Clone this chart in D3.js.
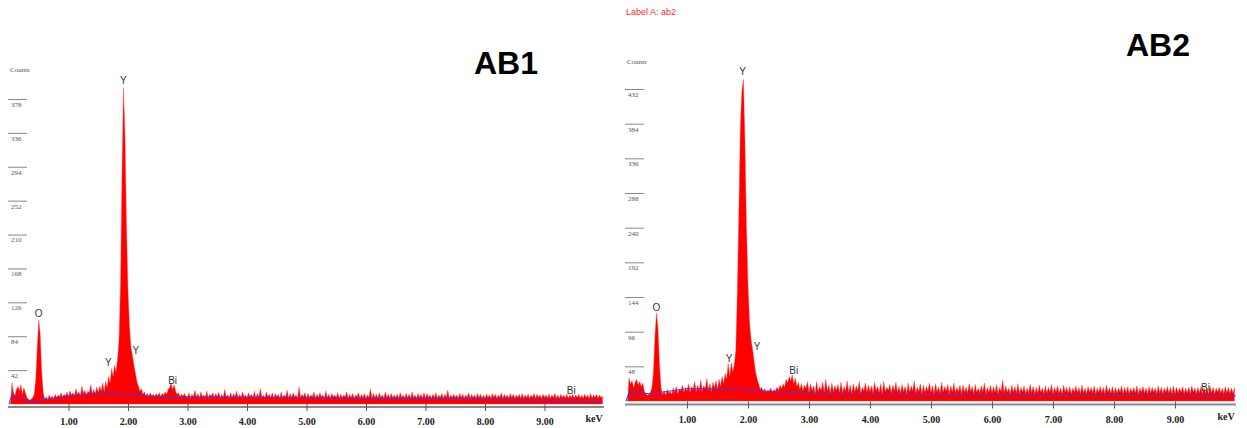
<!DOCTYPE html>
<html>
<head>
<meta charset="utf-8">
<script src="https://cdn.jsdelivr.net/npm/d3@7"></script>
<style>
  body { margin: 0; background: #fff; }
  svg { display: block; }
</style>
</head>
<body>
<svg id="chart" width="1247" height="428"></svg>
<script>
// channel width of the spectra (keV), 400 channels from 0 to 9.975 keV
const channelStep = 0.025;

// AB1 counts per channel, rows of 20 channels = 0.5 keV
const ab1Counts = [
  0,0,26,14,10,18,22,16,24,12,20,14,8,6,5,6,8,12,30,70,
  104,86,40,14,6,9,5,11,7,10,6,12,8,11,9,14,8,12,10,15,
  9,16,11,14,10,19,12,15,10,22,13,17,11,16,14,24,12,18,13,21,
  14,22,16,26,15,28,20,34,26,44,34,48,40,56,80,150,290,392,330,220,
  140,96,70,60,48,38,28,22,16,19,12,15,10,13,9,14,10,12,9,13,
  10,14,9,13,11,15,12,18,20,26,18,24,16,12,14,9,12,10,13,9,
  8,14,7,12,9,17,8,13,7,15,9,11,8,16,7,12,10,14,8,13,
  9,15,7,12,8,18,9,11,7,14,8,13,9,16,7,12,8,15,9,11,
  7,14,9,12,8,16,7,13,9,19,8,11,7,15,9,12,8,14,7,13,
  9,12,7,15,8,11,9,17,7,13,8,14,9,11,7,21,8,12,9,14,
  7,13,8,11,9,15,7,12,8,14,9,11,7,16,8,12,7,13,9,11,
  8,14,7,12,8,11,9,15,7,12,8,13,7,11,9,14,7,12,8,13,
  7,11,8,19,7,13,8,12,7,14,8,11,7,15,8,12,7,13,8,11,
  8,12,7,14,8,11,7,13,8,12,7,15,8,11,7,13,8,12,7,14,
  7,13,8,11,7,12,8,14,7,11,8,13,7,12,8,17,7,11,8,12,
  8,11,7,13,8,12,7,11,8,14,7,12,8,11,7,13,8,12,7,11,
  7,12,8,11,7,13,8,12,7,11,8,14,7,12,8,11,7,13,8,12,
  7,11,8,12,7,13,7,11,8,12,7,11,8,13,7,12,8,11,7,12,
  8,11,7,12,7,11,8,13,7,11,7,12,8,11,7,12,7,11,8,12,
  7,11,8,12,7,11,7,12,8,11,7,13,7,11,8,12,7,11,8,10
];

// AB2 counts per channel
const ab2Counts = [
  0,0,32,24,28,18,26,30,22,27,20,25,14,10,8,9,12,18,40,90,
  122,100,50,18,9,14,8,16,11,13,9,18,12,20,10,17,14,22,12,19,
  14,24,12,20,16,27,13,22,15,29,14,21,17,31,15,24,13,26,18,28,
  16,30,20,34,24,38,30,52,34,53,40,50,70,150,260,380,430,445,360,240,
  160,110,85,72,55,40,30,24,16,19,13,17,12,15,14,18,12,16,14,19,
  15,22,17,24,19,30,25,34,28,36,24,32,20,26,16,24,14,22,17,27,
  12,24,14,21,11,27,13,20,15,26,12,30,14,22,11,25,13,21,15,23,
  12,26,11,20,14,28,12,22,10,24,13,21,15,27,11,19,14,25,12,22,
  13,21,11,26,14,20,12,24,10,27,13,19,15,23,11,22,14,26,12,20,
  11,23,13,20,10,25,12,21,14,28,11,19,13,24,10,22,12,20,14,25,
  12,21,10,24,13,19,11,26,12,20,14,23,10,21,12,25,11,19,13,22,
  10,22,12,19,11,24,13,20,10,23,12,18,11,21,13,25,10,19,12,22,
  11,20,12,23,10,19,13,29,11,21,12,18,10,22,12,20,11,24,10,19,
  12,21,10,18,11,23,12,20,10,19,11,22,12,18,10,21,11,19,12,23,
  10,19,12,21,11,18,10,22,12,19,11,20,10,18,12,21,11,19,10,22,
  11,18,10,20,12,19,11,21,10,18,12,20,11,19,10,22,12,18,11,20,
  10,19,11,18,12,21,10,19,11,20,10,18,12,19,11,21,10,18,12,20,
  11,18,10,20,11,19,12,18,10,21,11,19,10,18,12,20,11,19,10,21,
  10,19,11,18,12,20,10,18,11,19,10,21,12,18,10,19,11,20,10,18,
  11,18,10,20,11,19,10,18,12,19,11,18,10,20,11,19,10,18,11,19
];

// fitted background (blue line)
const ab1BgKeV = [0, 0.05, 0.35, 1.0, 1.55, 1.9, 2.6, 4.0, 5.2, 7.0, 8.5, 9.95];
const ab1BgCounts = [0, 12, 3, 10, 14, 12, 9, 8.5, 7.5, 6, 5, 4.5];
const ab2BgKeV = [0, 0.05, 0.4, 1.0, 1.6, 2.2, 2.8, 3.5, 5.0, 7.0, 8.5, 10];
const ab2BgCounts = [0, 12, 10, 17, 17, 14, 11, 10, 9, 8, 7.5, 7];

// axis ticks
const keVTicks = [1, 2, 3, 4, 5, 6, 7, 8, 9];
const ab1CountTicks = [42, 84, 126, 168, 210, 252, 294, 336, 378];
const ab2CountTicks = [48, 96, 144, 192, 240, 288, 336, 384, 432];

// peak labels: element, energy (keV), counts where the label sits
const ab1Peaks = [
  { name: "O", kev: 0.5, count: 108 },
  { name: "Y", kev: 1.92, count: 396 },
  { name: "Y", kev: 1.67, count: 47 },
  { name: "Y", kev: 2.13, count: 62 },
  { name: "Bi", kev: 2.75, count: 25 },
  { name: "Bi", kev: 9.45, count: 13 }
];
const ab2Peaks = [
  { name: "O", kev: 0.5, count: 124 },
  { name: "Y", kev: 1.91, count: 451 },
  { name: "Y", kev: 1.69, count: 54 },
  { name: "Y", kev: 2.15, count: 71 },
  { name: "Bi", kev: 2.75, count: 37 },
  { name: "Bi", kev: 9.5, count: 14 }
];

const svg = d3.select("#chart");

function drawPanel(p) {
  const x = d3.scaleLinear().domain([0, 10]).range(p.xRange);
  const y = d3.scaleLinear().domain([0, p.yTicks[p.yTicks.length - 1]]).range(p.yRange);
  const g = svg.append("g");

  const pts = p.counts.map((c, i) => ({ k: i * channelStep, c }));

  // spectrum
  const area = d3.area()
    .x(d => x(d.k))
    .y0(y(0))
    .y1(d => y(d.c));
  g.append("path")
    .datum(pts)
    .attr("fill", "#ff0000")
    .attr("stroke", "#ff4040")
    .attr("stroke-width", 0.4)
    .attr("d", area);

  // background fit
  const bg = p.bgKeV.map((k, i) => ({ k, c: p.bgCounts[i] }));
  g.append("path")
    .datum(bg)
    .attr("fill", "none")
    .attr("stroke", "#3a3aff")
    .attr("stroke-width", 1)
    .attr("d", d3.line().x(d => x(d.k)).y(d => y(d.c)));

  // x axis
  const xa = g.append("g")
    .attr("transform", `translate(0,${p.axisY})`)
    .call(d3.axisBottom(x).tickValues(keVTicks).tickSizeOuter(0).tickFormat(d3.format(".2f")));
  xa.select(".domain").attr("stroke", "#8a8a8a").attr("stroke-width", 2)
    .attr("d", `M${p.xRange[0] - 1},0H${p.xRange[1]}`);
  xa.selectAll(".tick line").attr("y1", -3).attr("y2", 4).attr("stroke", "#555");
  xa.selectAll(".tick text")
    .attr("y", 11)
    .attr("fill", "#222")
    .style("font-family", "'Liberation Serif', serif")
    .style("font-weight", "bold")
    .style("font-size", "10px");
  g.append("text")
    .attr("x", x(10) - 10)
    .attr("y", p.axisY + 15)
    .attr("text-anchor", "middle")
    .attr("fill", "#222")
    .style("font-family", "'Liberation Serif', serif")
    .style("font-weight", "bold")
    .style("font-size", "10px")
    .text("keV");

  // y ticks: short lines with the value below
  const ya = g.append("g")
    .attr("transform", `translate(${p.xRange[0] - 1},0)`)
    .call(d3.axisRight(y).tickValues(p.yTicks).tickSize(19));
  ya.select(".domain").remove();
  ya.selectAll(".tick line").attr("stroke", "#888");
  ya.selectAll(".tick text")
    .attr("x", 3)
    .attr("dy", "1.05em")
    .attr("fill", "#555")
    .style("font-family", "'Liberation Serif', serif")
    .style("font-size", "7px");
  g.append("text")
    .attr("x", p.xRange[0] + 1)
    .attr("y", p.countsY)
    .attr("fill", "#555")
    .style("font-family", "'Liberation Serif', serif")
    .style("font-size", "7px")
    .text("Counts");

  // peak labels
  g.selectAll(".peak")
    .data(p.peaks)
    .join("text")
    .attr("x", d => x(d.kev))
    .attr("y", d => y(d.count))
    .attr("text-anchor", "middle")
    .attr("fill", "#333")
    .style("font-family", "'Liberation Sans', Arial, sans-serif")
    .style("font-size", "10px")
    .text(d => d.name);

  // panel title
  svg.append("text")
    .attr("x", p.titleX)
    .attr("y", p.titleY)
    .attr("text-anchor", "middle")
    .attr("fill", "#000")
    .style("font-family", "'Liberation Sans', Arial, sans-serif")
    .style("font-weight", "bold")
    .style("font-size", "32px")
    .text(p.title);
}

drawPanel({
  title: "AB1", titleX: 506, titleY: 74,
  counts: ab1Counts, bgKeV: ab1BgKeV, bgCounts: ab1BgCounts,
  yTicks: ab1CountTicks, peaks: ab1Peaks,
  xRange: [9, 604], yRange: [404, 99], axisY: 407, countsY: 72
});

drawPanel({
  title: "AB2", titleX: 1158, titleY: 56,
  counts: ab2Counts, bgKeV: ab2BgKeV, bgCounts: ab2BgCounts,
  yTicks: ab2CountTicks, peaks: ab2Peaks,
  xRange: [626, 1236], yRange: [401, 89], axisY: 404.5, countsY: 64
});

svg.append("text")
  .attr("x", 626)
  .attr("y", 15)
  .attr("fill", "#ff2a2a")
  .style("font-family", "'Liberation Sans', Arial, sans-serif")
  .style("font-size", "9px")
  .text("Label A: ab2");
</script>
</body>
</html>
